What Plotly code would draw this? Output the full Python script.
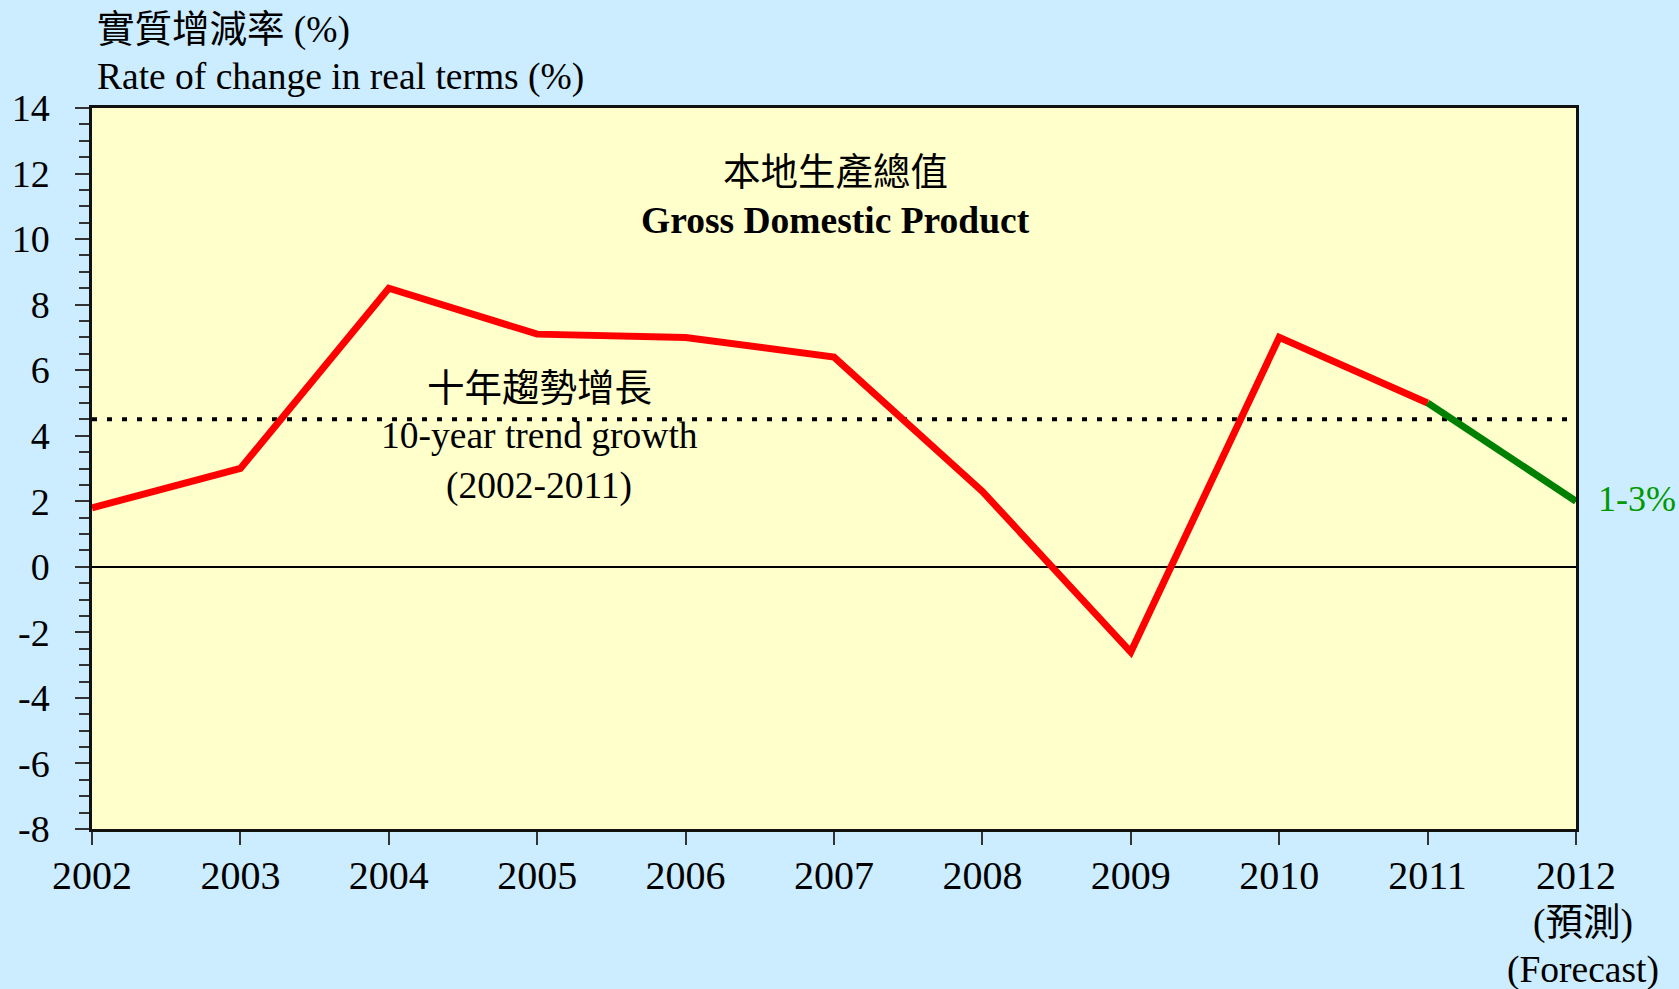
import plotly.graph_objects as go

years = [2002, 2003, 2004, 2005, 2006, 2007, 2008, 2009, 2010, 2011]
gdp_growth = [1.8, 3.0, 8.5, 7.1, 7.0, 6.4, 2.3, -2.6, 7.0, 5.0]
forecast_years = [2011, 2012]
forecast_values = [5.0, 2.0]
trend_years = [2002, 2012]
trend_values = [4.5, 4.5]
x_ticks = [2002, 2003, 2004, 2005, 2006, 2007, 2008, 2009, 2010, 2011, 2012]
y_ticks = [-8, -6, -4, -2, 0, 2, 4, 6, 8, 10, 12, 14]

FONT = "Liberation Serif, 'Noto Sans CJK TC', serif"
W, H = 1679, 989
L, R, T, B = 92, 103, 108, 160
PH = H - T - B
PW = W - L - R


def py(pix):
    """pixel y -> paper y"""
    return (H - B - pix) / PH


def px(pix):
    """pixel x -> paper x"""
    return (pix - L) / PW


fig = go.Figure()
fig.add_trace(go.Scatter(x=trend_years, y=trend_values, mode="lines",
                         line=dict(color="black", width=4, dash="5px,10px"),
                         cliponaxis=False, hoverinfo="skip"))
fig.add_trace(go.Scatter(x=years, y=gdp_growth, mode="lines",
                         line=dict(color="#FF0000", width=7),
                         cliponaxis=False))
fig.add_trace(go.Scatter(x=forecast_years, y=forecast_values, mode="lines",
                         line=dict(color="#008000", width=7),
                         cliponaxis=False))

AS = 37.5
ann = [
    dict(text="實質增減率 (%)", x=px(95), y=py(30), xanchor="left"),
    dict(text="Rate of change in real terms (%)", x=px(95), y=py(77), xanchor="left"),
    dict(text="本地生產總值", x=px(835), y=py(173), xanchor="center"),
    dict(text="<b>Gross Domestic Product</b>", x=px(835), y=py(220), xanchor="center"),
    dict(text="十年趨勢增長", x=px(539), y=py(388), xanchor="center"),
    dict(text="10-year trend growth", x=px(539), y=py(435), xanchor="center"),
    dict(text="(2002-2011)", x=px(539), y=py(486), xanchor="center"),
    dict(text="(預測)", x=px(1583), y=py(923), xanchor="center"),
    dict(text="(Forecast)", x=px(1583), y=py(970), xanchor="center"),
]
annotations = [dict(text=a["text"], x=a["x"], y=a["y"], xref="paper", yref="paper",
                    xanchor=a["xanchor"], yanchor="middle", showarrow=False,
                    font=dict(family=FONT, size=AS, color="black"))
               for a in ann]
annotations.append(dict(text="1-3%", x=px(1596), y=py(499), xref="paper", yref="paper",
                        xanchor="left", yanchor="middle", showarrow=False,
                        font=dict(family=FONT, size=36, color="#009900")))

fig.update_layout(
    width=W, height=H,
    margin=dict(l=L, r=R, t=T, b=B, pad=0),
    paper_bgcolor="#CCECFF",
    plot_bgcolor="#FFFFCC",
    showlegend=False,
    font=dict(family=FONT, size=38, color="black"),
    annotations=annotations,
    xaxis=dict(range=[2002, 2012], tickvals=x_ticks, ticktext=[str(v) for v in x_ticks],
               automargin=False,
               showgrid=False, zeroline=False, showline=True, linecolor="#111", linewidth=2.5,
               mirror=True, ticks="outside", ticklen=13, tickwidth=1.5, tickcolor="#333",
               ticklabelstandoff=-4, tickfont=dict(family=FONT, size=40)),
    yaxis=dict(range=[-8, 14], tickvals=y_ticks, ticktext=[str(v) for v in y_ticks],
               automargin=False, showgrid=False,
               zeroline=True, zerolinecolor="black", zerolinewidth=1.5,
               showline=True, linecolor="#111", linewidth=2.5, mirror=True,
               ticks="outside", ticklen=14, tickwidth=2, tickcolor="#333",
               minor=dict(dtick=0.5, ticks="outside", ticklen=10, tickwidth=2, tickcolor="#333"),
               ticklabelstandoff=18, tickfont=dict(family=FONT, size=38)),
)

fig.write_html("out.html", config={"displayModeBar": False},
               post_script="document.body.style.margin='0';document.body.style.overflow='hidden';")
